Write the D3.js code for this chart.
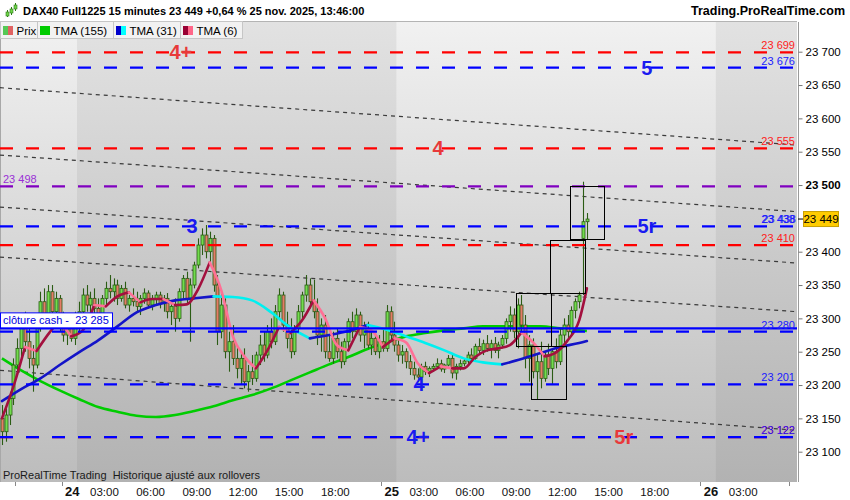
<!DOCTYPE html>
<html><head><meta charset="utf-8">
<script src="https://cdn.jsdelivr.net/npm/d3@7"></script>
<style>
body{margin:0;background:#fff;}
svg{display:block;font-family:"Liberation Sans",Arial,sans-serif;}
</style>
</head><body>
<svg id="c" width="850" height="500"></svg>
<script>
// ---------- DATA ----------
const priceTicks = [23100,23150,23200,23250,23300,23350,23400,23500,23550,23600,23650,23700];

const barOpen = [
23150,23130,23155,23180,23230,23255,23285,23265,23240,23230,
23290,23325,23305,23340,23310,23330,23290,23275,23285,23270,
23300,23310,23335,23320,23330,23315,23305,23330,23345,23340,
23350,23330,23345,23320,23330,23325,23318,23330,23338,23320,
23328,23335,23322,23330,23310,23318,23300,23340,23360,23330,
23350,23380,23410,23425,23400,23420,23350,23280,23320,23250,
23265,23240,23225,23240,23205,23220,23210,23245,23260,23245,
23280,23265,23310,23335,23290,23270,23250,23285,23310,23335,
23350,23325,23310,23275,23290,23250,23240,23270,23250,23235,
23265,23295,23280,23305,23275,23285,23260,23270,23250,23265,
23255,23310,23275,23260,23245,23250,23235,23225,23215,23212,
23228,23220,23225,23228,23232,23224,23230,23240,23218,23228,
23232,23236,23245,23240,23258,23252,23262,23255,23262,23252,
23260,23270,23295,23305,23280,23320,23290,23240,23260,23220,
23235,23210,23245,23225,23250,23235,23275,23290,23280,23312,
23325,23420,23445];
const barHigh = [
23170,23165,23190,23240,23270,23300,23310,23290,23260,23300,
23340,23345,23350,23350,23340,23335,23310,23300,23305,23310,
23325,23345,23350,23340,23345,23330,23335,23355,23365,23360,
23358,23350,23355,23335,23345,23340,23335,23345,23342,23335,
23340,23340,23335,23338,23325,23330,23345,23365,23370,23360,
23385,23420,23435,23440,23430,23425,23365,23340,23330,23280,
23290,23260,23250,23255,23230,23245,23250,23275,23280,23290,
23300,23320,23345,23340,23310,23300,23290,23320,23340,23365,
23360,23358,23330,23300,23305,23275,23280,23285,23265,23270,
23300,23310,23315,23310,23295,23295,23280,23278,23275,23285,
23320,23318,23295,23270,23260,23255,23245,23235,23225,23232,
23235,23228,23232,23240,23238,23232,23245,23245,23232,23238,
23240,23250,23255,23262,23270,23268,23275,23268,23272,23265,
23275,23300,23318,23315,23330,23335,23305,23275,23270,23245,
23265,23250,23262,23255,23270,23285,23300,23305,23318,23330,
23340,23505,23458];
const barLow = [
23110,23115,23140,23170,23215,23240,23250,23225,23190,23225,
23280,23295,23300,23300,23285,23280,23265,23260,23265,23260,
23280,23300,23310,23300,23305,23295,23300,23320,23330,23325,
23320,23325,23315,23310,23318,23310,23305,23322,23315,23312,
23320,23315,23310,23300,23290,23280,23295,23330,23320,23265,
23345,23375,23395,23390,23380,23340,23260,23270,23240,23220,
23230,23210,23200,23195,23190,23200,23205,23230,23235,23240,
23255,23260,23300,23280,23255,23240,23245,23280,23300,23325,
23315,23300,23260,23250,23240,23235,23232,23240,23225,23230,
23255,23270,23275,23265,23255,23255,23245,23245,23240,23250,
23250,23265,23250,23235,23232,23225,23215,23208,23205,23210,
23215,23212,23220,23225,23220,23218,23228,23210,23208,23222,
23228,23230,23235,23238,23245,23245,23250,23240,23248,23240,
23255,23262,23280,23270,23255,23280,23225,23205,23210,23178,
23195,23205,23215,23200,23225,23230,23262,23270,23275,23300,
23315,23335,23418];
const barClose = [
23130,23155,23180,23230,23255,23285,23265,23240,23230,23290,
23325,23305,23340,23310,23330,23290,23275,23285,23270,23300,
23310,23335,23320,23330,23315,23305,23330,23345,23340,23350,
23330,23345,23320,23330,23325,23318,23330,23338,23320,23328,
23335,23322,23330,23310,23318,23300,23340,23360,23330,23350,
23380,23410,23425,23400,23420,23350,23280,23320,23250,23265,
23240,23225,23240,23205,23220,23210,23245,23260,23245,23280,
23265,23310,23335,23290,23270,23250,23285,23310,23335,23350,
23325,23310,23275,23290,23250,23240,23270,23250,23235,23265,
23295,23280,23305,23275,23285,23260,23270,23250,23265,23255,
23310,23275,23260,23245,23250,23235,23225,23215,23212,23228,
23220,23225,23228,23232,23224,23230,23240,23218,23228,23232,
23236,23245,23240,23258,23252,23262,23255,23262,23252,23260,
23270,23295,23305,23280,23320,23290,23240,23260,23220,23235,
23210,23245,23225,23250,23235,23275,23290,23280,23312,23325,
23335,23445,23449];

// moving averages (bar index, value)
const maIdxA = [0,5,10,15,20,25,30,35,40,45,50,55,60,65,70,75,80,85,90,95,100,105,110,115,120,125,130,135,140,145,150,152];
const tma155 = [23240,23222,23206,23192,23179,23167,23160,23154,23152,23155,23161,23168,23177,23185,23195,23207,23219,23231,23242,23254,23264,23273,23278,23282,23285,23288,23288,23288,23288,23285,23282,23281];
const tma31  = [23176,23194,23210,23230,23249,23267,23288,23309,23320,23327,23330,23333,23332,23327,23309,23286,23270,23275,23281,23290,23283,23273,23263,23252,23240,23234,23231,23239,23248,23257,23263,23266];
const maIdxB = [0,3,6,9,12,15,18,21,24,27,30,33,36,39,42,45,48,51,54,57,60,63,66,69,72,75,78,81,84,87,90,93,96,99,102,105,108,111,114,117,120,123,126,129,132,135,138,141,144,147,150,152];
const tma6 = [23150,23198,23257,23251,23276,23297,23273,23282,23320,23318,23333,23339,23324,23329,23329,23320,23321,23344,23384,23342,23273,23243,23225,23252,23287,23278,23297,23327,23300,23260,23252,23287,23282,23257,23270,23264,23233,23218,23228,23225,23225,23242,23252,23255,23260,23279,23264,23243,23249,23267,23297,23345];

// horizontal levels
const redLevels = [23699, 23555, 23410, 23122];
const blueLevels = [23676, 23438, 23280, 23201, 23122];
const purpleLevels = [23498];
const clotureCash = 23285;
const lastPrice = 23449;

// channel lines (value at chart start / chart end)
const trendBars = [-0.5, 206.6];
const trendStart = [23646, 23545, 23467, 23392, 23222];
const trendEnd   = [23560, 23460, 23383, 23310, 23132];

// boxes [bar from, bar to, low, high]
const boxFrom = [147.7, 142.5, 133.6, 137.5];
const boxTo   = [156.5, 151.5, 142.6, 146.7];
const boxLow  = [23418, 23338, 23258, 23178];
const boxHigh = [23498, 23418, 23338, 23258];

// big level marks
const markText  = ["4+","5","4","3","5r","4","4+","5r"];
const markLevel = [23699,23676,23555,23438,23438,23201,23122,23122];
const markBar   = [46.5,167.6,113.3,49.4,167.6,108.4,108.1,161.6];
const markKind  = ["r","b","r","b","b","b","b","r"];

// time axis
const sessionOpen = {21:-63.5, 24:19.5, 25:102.5, 26:185.5};
const tickDay  = [21,21,24,24,24,24,24,24,24,24,25,25,25,25,25,25,25,25,26,26,26];
const tickHour = [18,21,0,3,6,9,12,15,18,21,0,3,6,9,12,15,18,21,0,3,6];
const tickText = ["","","24","03:00","06:00","09:00","12:00","15:00","18:00","","25","03:00","06:00","09:00","12:00","15:00","18:00","","26","03:00",""];

// ---------- DRAW ----------
const svg = d3.select("#c");
const PR = 797, PT = 22, PB = 482;
const x = d3.scaleLinear().domain([-0.5, 206.6]).range([0, PR]);
const y = d3.scaleLinear().domain([23700, 23100]).range([51.7, 451.7]);
const fmt = v => d3.format(",")(v).replace(/,/g, " ");
const RED = "#ff0000", BLUE = "#0000ff", PURPLE = "#8000c0";

const defs = svg.append("defs");
function grad(id, c1, c2) {
  const g = defs.append("linearGradient").attr("id", id).attr("x1",0).attr("y1",0).attr("x2",0).attr("y2",1);
  g.append("stop").attr("offset","0%").attr("stop-color",c1);
  g.append("stop").attr("offset","100%").attr("stop-color",c2);
}
grad("gLight", "#f1f1f1", "#bcbcbc");
grad("gDark", "#e2e2e2", "#b2b2b2");
defs.append("clipPath").attr("id","clip").append("rect").attr("x",0).attr("y",PT).attr("width",PR).attr("height",PB-PT);

svg.append("rect").attr("width",850).attr("height",500).attr("fill","#fff");
svg.append("rect").attr("x",0).attr("y",PT).attr("width",PR).attr("height",PB-PT).attr("fill","url(#gLight)");
const bands = [[sessionOpen[24], sessionOpen[25]], [sessionOpen[26], 206.6]];
svg.selectAll(".band").data(bands).enter().append("rect")
  .attr("x", d => x(d[0])).attr("width", d => x(d[1]) - x(d[0]))
  .attr("y", PT).attr("height", PB-PT).attr("fill","url(#gDark)");
svg.append("line").attr("x1",0).attr("x2",PR).attr("y1",PT-0.5).attr("y2",PT-0.5).attr("stroke","#b4b4b4");
svg.append("line").attr("x1",0.5).attr("x2",0.5).attr("y1",PT).attr("y2",PB).attr("stroke","#a8a8a8");

const plot = svg.append("g").attr("clip-path","url(#clip)");

// channel dotted lines
trendStart.forEach((s,k) => {
  plot.append("line")
    .attr("x1", x(trendBars[0])).attr("x2", x(trendBars[1]))
    .attr("y1", y(s)).attr("y2", y(trendEnd[k]))
    .attr("stroke","#3a3a3a").attr("stroke-width",1.2).attr("stroke-dasharray","4,4");
});

// TMA 155
const lineGen = d3.line().curve(d3.curveMonotoneX);
plot.append("path").attr("d", lineGen(maIdxA.map((d,k)=>[x(d), y(tma155[k])])))
  .attr("fill","none").attr("stroke","#00cc00").attr("stroke-width",2.6);

// candles
const candles = plot.append("g");
barClose.forEach((c,i) => {
  const o = barOpen[i], h = barHigh[i], l = barLow[i];
  const cx = Math.round(x(i)) + 0.5;
  candles.append("line").attr("x1",cx).attr("x2",cx).attr("y1",y(h)).attr("y2",y(l))
    .attr("stroke","#2b5c14").attr("stroke-width",1.1);
  const top = y(Math.max(o,c)), bot = y(Math.min(o,c));
  candles.append("rect").attr("x",cx-1.5).attr("width",3)
    .attr("y",top).attr("height",Math.max(1,bot-top))
    .attr("fill", c >= o ? "#72dc4e" : "#e57b68")
    .attr("stroke","#2b5c14").attr("stroke-width",0.8);
});

// coloured moving averages
function colouredLine(idx, vals, upCol, downCol, w) {
  const runs = [];
  let cur = [[x(idx[0]), y(vals[0])]], dir = null;
  for (let k = 1; k < vals.length; k++) {
    const d = vals[k] >= vals[k-1] ? "up" : "down";
    if (dir === null) dir = d;
    if (d !== dir) { runs.push({dir, pts: cur}); cur = [[x(idx[k-1]), y(vals[k-1])]]; dir = d; }
    cur.push([x(idx[k]), y(vals[k])]);
  }
  runs.push({dir, pts: cur});
  runs.forEach(r => plot.append("path").attr("d", lineGen(r.pts)).attr("fill","none")
    .attr("stroke", r.dir === "up" ? upCol : downCol).attr("stroke-width", w).attr("stroke-linecap","round"));
}
colouredLine(maIdxA, tma31, "#1414c8", "#00f0f0", 2.6);
colouredLine(maIdxB, tma6, "#a3103e", "#ff7096", 2.6);

// level dashed lines
function levels(vals, col) {
  vals.forEach(v => plot.append("line").attr("x1",0).attr("x2",PR).attr("y1",y(v)).attr("y2",y(v))
    .attr("stroke",col).attr("stroke-width",2.2).attr("stroke-dasharray","13,13"));
}
levels(redLevels, RED);
levels(purpleLevels, PURPLE);
levels(blueLevels, BLUE);

// cloture cash solid line
plot.append("line").attr("x1",0).attr("x2",PR).attr("y1",y(clotureCash)).attr("y2",y(clotureCash))
  .attr("stroke",BLUE).attr("stroke-width",2.2);

// boxes
boxFrom.forEach((f,k) => {
  plot.append("rect").attr("x", Math.round(x(f))+0.5).attr("y", Math.round(y(boxHigh[k]))+0.5)
    .attr("width", Math.round(x(boxTo[k]) - x(f))).attr("height", Math.round(y(boxLow[k]) - y(boxHigh[k])))
    .attr("fill","none").attr("stroke","#000").attr("stroke-width",1);
});

// big marks
markText.forEach((t,k) => {
  svg.append("text").attr("x", x(markBar[k])).attr("y", y(markLevel[k]) + 7)
    .attr("text-anchor","middle").attr("font-size",20).attr("font-weight","bold")
    .attr("fill", markKind[k] === "r" ? "#e8393a" : "#1a1af0").text(t);
});

// right small level labels
function rightLabels(vals, col, dx) {
  vals.forEach(v => svg.append("text").attr("x", 795 + dx).attr("y", y(v) - 3)
    .attr("text-anchor","end").attr("font-size",11).attr("fill",col).text(fmt(v)));
}
rightLabels(redLevels, "#ff2020", 0);
rightLabels(blueLevels, "#1a1aff", 0);
rightLabels([23438], "#1a1aff", 1);
svg.append("text").attr("x",3).attr("y", y(purpleLevels[0]) - 3).attr("font-size",11)
  .attr("fill","#9a2fd6").text(fmt(purpleLevels[0]));

// cloture cash label
const cy = y(clotureCash);
svg.append("rect").attr("x",0.5).attr("y",cy-15.5).attr("width",112).attr("height",15)
  .attr("fill","#fff").attr("stroke",BLUE).attr("stroke-width",1);
svg.append("text").attr("x",3).attr("y",cy-4).attr("font-size",11).attr("fill","#0000e0")
  .style("white-space","pre").text("clôture cash -  " + fmt(clotureCash));

// ---------- right axis ----------
svg.append("line").attr("x1",798.5).attr("x2",798.5).attr("y1",PT).attr("y2",PB).attr("stroke","#9a9a9a");
const yAxis = d3.axisRight(y).tickValues(priceTicks).tickSize(4).tickPadding(3).tickFormat(fmt);
const ya = svg.append("g").attr("transform","translate(798.5,0)").call(yAxis);
ya.select(".domain").remove();
ya.selectAll("line").attr("stroke","#777");
ya.selectAll("text").attr("font-size",11.5).attr("fill","#000")
  .attr("font-family","'Liberation Sans',Arial,sans-serif")
  .attr("font-weight", d => d === 23500 ? "bold" : "normal");

// last price tag
const ly = y(lastPrice);
svg.append("line").attr("x1",798).attr("x2",803).attr("y1",ly).attr("y2",ly).attr("stroke","#000");
svg.append("rect").attr("x",803.5).attr("y",ly-7.5).attr("width",35).attr("height",15)
  .attr("fill","#ffcc00").attr("stroke","#c9a000");
svg.append("text").attr("x",821).attr("y",ly+4).attr("text-anchor","middle").attr("font-size",11.5)
  .attr("fill","#000").text(fmt(lastPrice));

// ---------- time axis ----------
const tickIdx = tickDay.map((d,k) => sessionOpen[d] + (tickHour[k] === 0 ? 0 : (tickHour[k] - 1.25) * 4));
const xAxis = d3.axisBottom(x).tickValues(tickIdx).tickSize(0).tickPadding(0).tickFormat((d,k) => tickText[k]);
const xa = svg.append("g").attr("transform",`translate(0,${PB})`).call(xAxis);
xa.select(".domain").remove();
xa.selectAll("text").attr("y",14).attr("dy",0).attr("font-size",11.5).attr("fill","#111")
  .attr("font-family","'Liberation Sans',Arial,sans-serif")
  .each(function(d,k){
    if (tickHour[k] === 0) {
      d3.select(this).attr("font-weight","bold").attr("font-size",13).attr("text-anchor","end").attr("dx",2);
    }
  });
tickIdx.forEach((t,k) => {
  if (tickText[k] === "") {
    svg.append("line").attr("x1",Math.round(x(t))+0.5).attr("x2",Math.round(x(t))+0.5)
      .attr("y1",PB).attr("y2",PB+4).attr("stroke","#888");
  }
});

svg.append("text").attr("x",3).attr("y",479).attr("font-size",11).attr("fill","#1a1a1a")
  .style("white-space","pre").text("ProRealTime Trading  Historique ajusté aux rollovers");

// ---------- header ----------
svg.append("rect").attr("x",0).attr("y",0).attr("width",850).attr("height",PT-1).attr("fill","#fff");
[[7,10,17,12,16],[11,7,15,9,13],[15,3,11,5,9]].forEach(c => {
  svg.append("line").attr("x1",c[0]+0.5).attr("x2",c[0]+0.5).attr("y1",c[1]).attr("y2",c[2]).attr("stroke","#2b7a14");
  svg.append("rect").attr("x",c[0]-1).attr("y",c[3]).attr("width",3).attr("height",c[4]-c[3]).attr("fill","#6fd44a").attr("stroke","#2b7a14").attr("stroke-width",0.6);
});
svg.append("text").attr("x",23).attr("y",15).attr("font-size",11).attr("font-weight","bold").attr("fill","#000")
  .text("DAX40 Full1225 15 minutes 23 449 +0,64 % 25 nov. 2025, 13:46:00");
svg.append("text").attr("x",845).attr("y",15).attr("text-anchor","end").attr("font-size",12.5).attr("font-weight","bold")
  .attr("fill","#000").text("Trading.ProRealTime.com");

// legend
const legX = [0.5, 37.5, 113.5, 180.5, 242.5];
const legLabel = ["Prix", "TMA (155)", "TMA (31)", "TMA (6)"];
const legSw = [["#55c855","#e06262"],["#00cc00","#00cc00"],["#0000cc","#00ffff"],["#990033","#ff6688"]];
legLabel.forEach((t,k) => {
  svg.append("rect").attr("x",legX[k]).attr("y",PT-0.5).attr("width",legX[k+1]-legX[k]).attr("height",17)
    .attr("fill","#f2f2f2").attr("stroke","#c6c6c6");
  svg.append("rect").attr("x",legX[k]+2.5).attr("y",PT+4).attr("width",5).attr("height",9).attr("fill",legSw[k][0]);
  svg.append("rect").attr("x",legX[k]+7.5).attr("y",PT+4).attr("width",5).attr("height",9).attr("fill",legSw[k][1]);
  svg.append("text").attr("x",legX[k]+16).attr("y",PT+12.5).attr("font-size",11.5).attr("fill","#000").text(t);
});
</script>
</body></html>
